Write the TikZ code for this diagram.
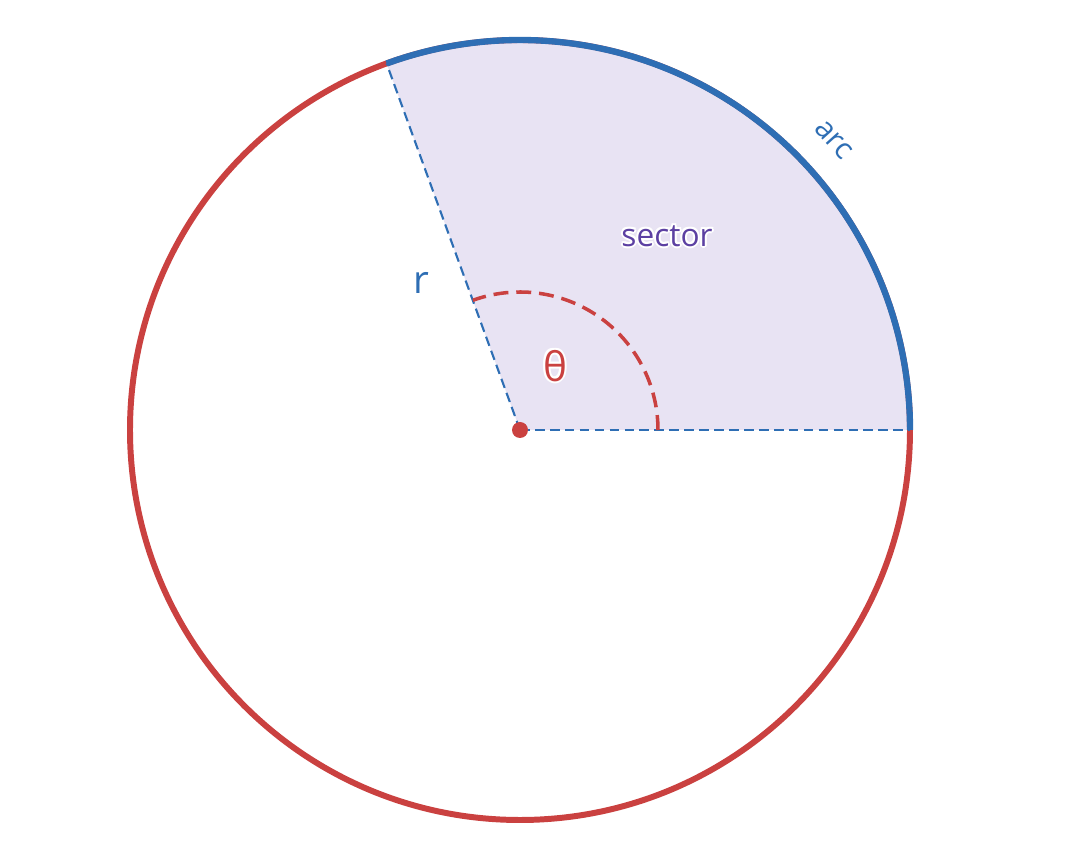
\documentclass[tikz,border=0pt]{standalone}
\usepackage{fontspec}
\setmainfont{Open Sans}
\usepackage{tikz}
\usetikzlibrary{calc}
\definecolor{rim}{RGB}{202,65,64}
\definecolor{arcblue}{RGB}{46,110,180}
\definecolor{secfill}{RGB}{232,227,243}
\definecolor{secpurple}{RGB}{92,64,162}

\tikzset{
  radius line/.style={arcblue,line width=1.2pt,dash pattern=on 5.5pt off 3pt},
  label text/.style={font=\fontsize{#1}{#1}\selectfont}
}
% white rim round a label
\newcommand{\whiterim}[3]{%
  \foreach \ang in {0,45,...,315}{
    \node[text=white,label text=#2] at ($(#1)+(\ang:2)$) {#3};
  }
}

\begin{document}
\begin{tikzpicture}[x=0.02cm,y=0.02cm]
\useasboundingbox (0,0) rectangle (1080,863);
\coordinate (O) at (520,433);
\coordinate (A) at ($(O)+(0:390)$);
\coordinate (B) at ($(O)+(110:390)$);
\coordinate (P) at ($(O)+(0:138)$);
% sector
\fill[secfill] (O) -- (A) arc[start angle=0,end angle=110,radius=390] -- cycle;
% circle and arc
\draw[rim,line width=3.4pt] (O) circle[radius=390];
\draw[arcblue,line width=3.6pt] (A) arc[start angle=0,end angle=110,radius=390];
% radii
\draw[radius line] (O) -- (A);
\draw[radius line] (O) -- (B);
% angle
\draw[rim,line width=2pt,dash pattern=on 8.5pt off 4.5pt] (P) arc[start angle=0,end angle=110,radius=138];
\fill[rim] (O) circle[radius=8];
% labels
\node[text=arcblue,label text=22] (rlab) at (421,580) {r};
\node[text=arcblue,label text=17,rotate=-48] (arclab) at (834,723) {arc};
\whiterim{667,627}{18}{sector}
\node[text=secpurple,label text=18] (seclab) at (667,627) {sector};
\whiterim{555,497}{23}{θ}
\node[text=rim,label text=23] (thlab) at (555,497) {θ};
\end{tikzpicture}
\end{document}
